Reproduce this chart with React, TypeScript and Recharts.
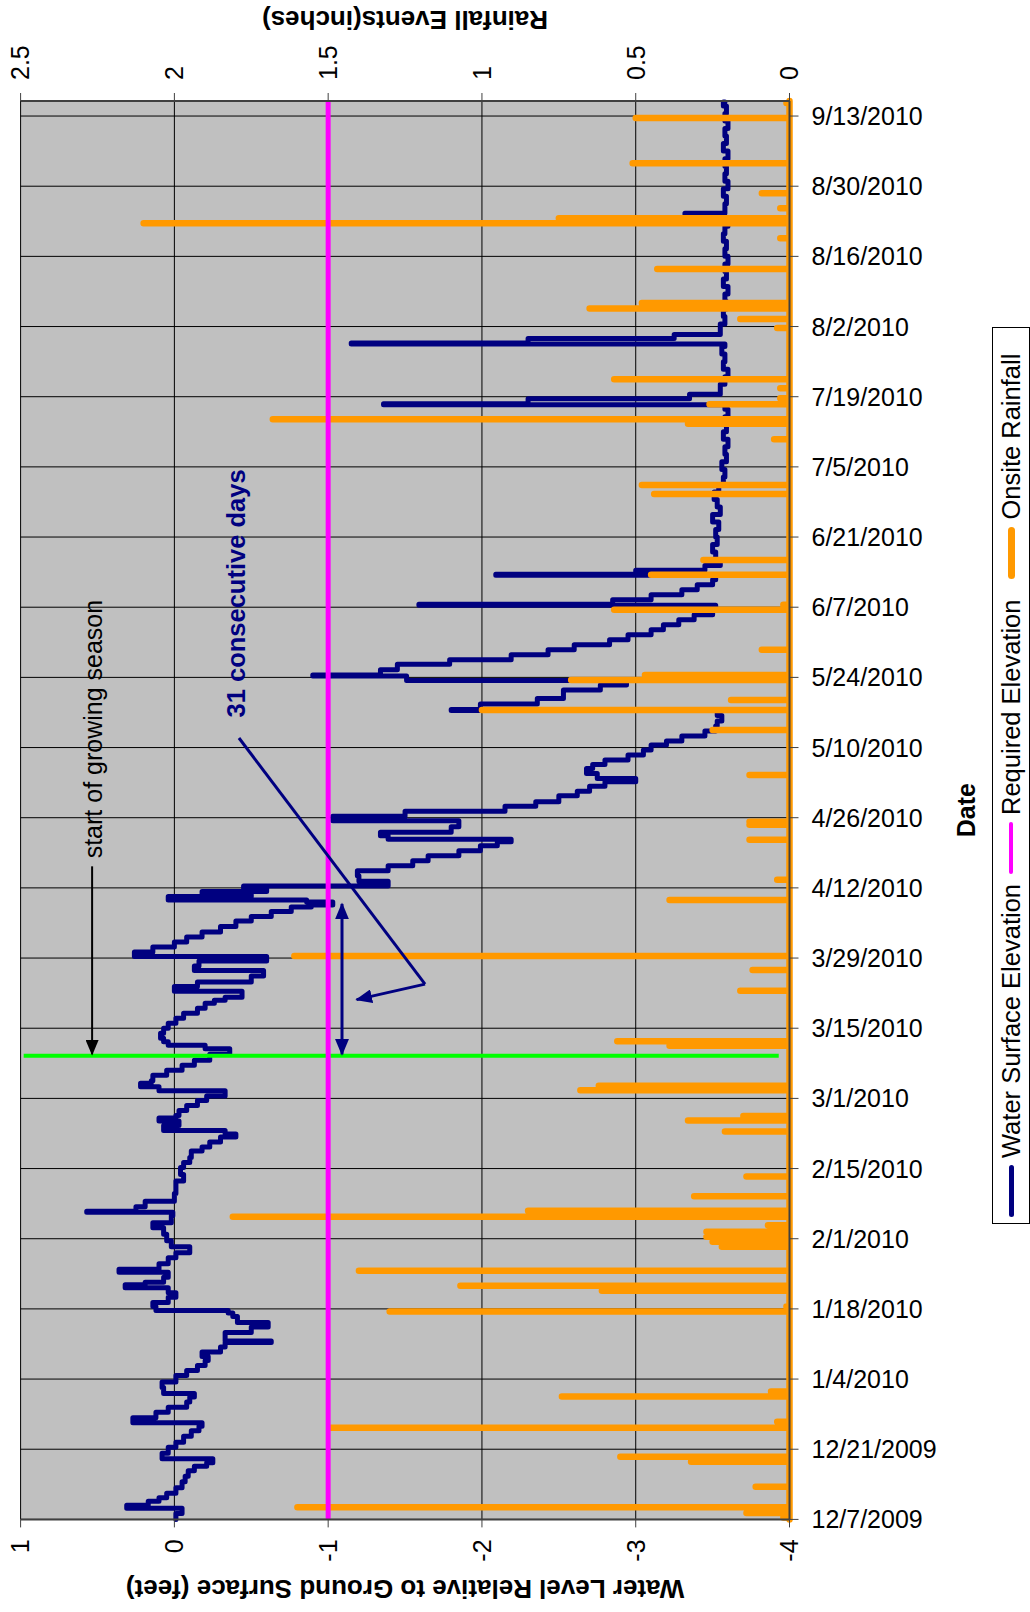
import React from "react";
import { ComposedChart, Line, XAxis, YAxis, CartesianGrid, ReferenceLine, ReferenceDot } from "recharts";

// x = days after 12/7/2009
const tickDays = [0, 14, 28, 42, 56, 70, 84, 98, 112, 126, 140, 154, 168, 182, 196, 210, 224, 238, 252, 266, 280];
const tickLabels = [
  "12/7/2009", "12/21/2009", "1/4/2010", "1/18/2010", "2/1/2010", "2/15/2010", "3/1/2010",
  "3/15/2010", "3/29/2010", "4/12/2010", "4/26/2010", "5/10/2010", "5/24/2010", "6/7/2010",
  "6/21/2010", "7/5/2010", "7/19/2010", "8/2/2010", "8/16/2010", "8/30/2010", "9/13/2010",
];
const levelTicks = [-4, -3, -2, -1, 0, 1];
const rainTicks = [0, 0.5, 1, 1.5, 2, 2.5];
const lastDay = 283;

// [day, feet]
const waterLevel: [number, number][] = [
  [0, -0.01], [1.2, -0.05], [2.2, 0.31], [2.8, 0.17], [3.6, 0.1], [4.3, 0.05], [5.2, -0.01], [6.3, -0.05],
  [7.5, -0.07], [8.6, -0.09], [9.7, -0.13], [10.6, -0.21], [11.3, -0.25], [12.1, 0.08], [13.2, 0.04],
  [14.4, -0.01], [15.4, -0.06], [16.6, -0.11], [17.7, -0.16], [18.6, -0.18], [19.3, 0.27], [20.3, 0.12],
  [21.4, 0.04], [22.4, -0.08], [23.4, -0.1], [24.4, -0.13], [25.1, 0.07], [26.3, 0.08], [27.4, -0.01],
  [28.7, -0.08], [29.7, -0.15], [30.7, -0.2], [31.7, -0.22], [32.5, -0.18], [33.4, -0.3], [34.4, -0.33],
  [35.3, -0.63], [35.6, -0.33], [37.3, -0.5], [38.4, -0.61], [39.3, -0.41], [40.5, -0.38], [41.2, -0.35],
  [41.7, 0.12], [42.5, 0.14], [43.3, 0.04], [44.3, -0.01], [45.2, 0.04], [46.2, 0.32], [46.8, 0.19],
  [47.3, 0.07], [48.3, 0.04], [49.3, 0.36], [49.9, 0.1], [51, 0.04], [52.2, -0.01], [53.2, -0.1],
  [54.4, 0.02], [55.6, 0.05], [56.9, 0.07], [58.2, 0.14], [59.2, 0.02], [60.6, 0.01], [61.3, 0.57],
  [61.5, 0.25], [62.4, 0.19], [63.5, 0], [65, -0.01], [66.3, -0.01], [67.5, -0.06], [68.8, -0.04],
  [70.2, -0.06], [71.2, -0.1], [72.2, -0.11], [73.5, -0.18], [74.3, -0.23], [75.3, -0.3], [76.3, -0.4],
  [76.9, -0.33], [77.6, 0.07], [78.6, -0.03], [79.5, 0.1], [80.1, -0.01], [80.6, -0.03], [81.6, -0.08],
  [82.6, -0.15], [83.6, -0.21], [84.5, -0.33], [85.5, 0.1], [86.3, 0.22], [87, 0.15], [87.5, 0.14],
  [88.6, 0.05], [89.6, -0.05], [90.6, -0.13], [91.6, -0.23], [92.8, -0.36], [93.9, -0.2], [94.6, 0.04],
  [95.3, 0.07], [96, 0.09], [97, 0.07], [98, 0.04], [99, -0.01], [100, -0.06], [101, -0.15], [102, -0.2],
  [103, -0.26], [103.6, -0.33], [104.2, -0.44], [105.4, 0], [106.3, -0.15], [107.2, -0.5], [108.4, -0.58],
  [109.5, -0.13], [110.4, -0.16], [111.4, -0.6], [112.3, 0.26], [113.2, 0.14], [114.2, 0], [115.2, -0.08],
  [116.2, -0.18], [117.2, -0.3], [118.3, -0.4], [119.4, -0.5], [120.3, -0.63], [121.3, -0.76],
  [122.2, -0.89], [122.6, -1.03], [123.2, -0.86], [123.6, 0.04], [124.3, -0.5], [124.7, -0.18],
  [125.3, -0.6], [125.9, -0.45], [126.4, -1.39], [127.3, -1.2], [128.4, -1.19], [129.4, -1.39],
  [130.4, -1.55], [131.4, -1.65], [132.4, -1.85], [133.4, -1.99], [134.4, -2.1], [135.2, -2.19],
  [135.7, -1.39], [136.4, -1.34], [137.1, -1.8], [138.2, -1.85], [139.4, -1.03], [140.3, -1.5],
  [141.3, -2.15], [142.3, -2.35], [143.2, -2.5], [144.4, -2.62], [145.3, -2.7], [146.3, -2.8],
  [147.2, -3.0], [147.8, -2.75], [148.8, -2.68], [149.8, -2.72], [150.6, -2.8], [151.5, -2.95],
  [152.5, -3.05], [153.5, -3.1], [154.5, -3.2], [155.3, -3.3], [156.3, -3.45], [157.3, -3.52],
  [158.3, -3.53], [159.3, -3.56], [160.4, -3.53], [161.4, -1.8], [161.6, -1.99], [162.7, -2.36],
  [163.8, -2.53], [165.5, -2.77], [166.5, -2.94], [167.4, -1.51], [168.3, -0.9], [168.5, -1.34],
  [169.5, -1.45], [170.6, -1.79], [171.5, -2.19], [172.5, -2.43], [173.5, -2.6], [174.5, -2.83],
  [175.5, -2.95], [176.5, -3.1], [177.5, -3.18], [178.5, -3.28], [179.5, -3.38], [180.5, -3.5],
  [181.5, -3.52], [182.4, -1.59], [182.6, -2.85], [183.5, -3.1], [184.5, -3.3], [185.5, -3.4],
  [186.5, -3.5], [187.5, -3.52], [188.4, -2.09], [188.6, -3.0], [189.4, -3.45], [190.3, -3.55],
  [191.5, -3.52], [193, -3.5], [194.5, -3.53], [196, -3.52], [197.5, -3.54], [199, -3.5], [200.5, -3.55],
  [202, -3.53], [203.5, -3.51], [205, -3.54], [206.5, -3.57], [208, -3.58], [209.5, -3.56], [211, -3.59],
  [212.5, -3.58], [214, -3.6], [215.5, -3.57], [217, -3.59], [218.5, -3.58], [220, -3.6], [221.5, -3.58],
  [222.4, -1.36], [222.6, -2.3], [223.6, -3.35], [224.5, -3.55], [226.5, -3.58], [228, -3.6],
  [229.5, -3.57], [231, -3.58], [232.5, -3.56], [234, -3.58], [234.5, -1.15], [234.7, -2.3],
  [235.6, -3.25], [236.4, -3.55], [238.5, -3.58], [240, -3.57], [241.5, -3.59], [243, -3.58],
  [244.5, -3.6], [246, -3.57], [247.5, -3.59], [249, -3.58], [250.5, -3.6], [252, -3.58], [253.5, -3.59],
  [255, -3.57], [256.5, -3.58], [258, -3.6], [259.5, -3.57], [260.4, -3.32], [260.6, -3.58],
  [262.5, -3.59], [264, -3.57], [265.5, -3.6], [267, -3.58], [268.5, -3.59], [270, -3.58], [271.5, -3.6],
  [273, -3.57], [274.5, -3.59], [276, -3.58], [277.5, -3.6], [279, -3.58], [280.5, -3.59], [282, -3.57],
  [282.8, -3.58],
];

// [day, inches]
const rainfall: [number, number][] = [
  [0.4, 0.02], [1.3, 0.14], [2.4, 1.6], [6.5, 0.11], [11.5, 0.32], [12.5, 0.55], [18.3, 1.49], [19.5, 0.04],
  [24.5, 0.74], [25.5, 0.06], [41.5, 1.3], [42.5, 0.01], [45.6, 0.61], [46.6, 1.07], [49.6, 1.4],
  [54.4, 0.22], [55.4, 0.25], [56.4, 0.27], [57.4, 0.27], [58.7, 0.07], [60.4, 1.81], [61.6, 0.85],
  [64.5, 0.31], [68.4, 0.14], [77.4, 0.21], [79.6, 0.33], [80.5, 0.15], [85.6, 0.68], [86.5, 0.62],
  [94.5, 0.39], [95.4, 0.56], [105.5, 0.16], [109.6, 0.12], [112.4, 1.61], [123.6, 0.39], [127.6, 0.04],
  [135.6, 0.13], [138.6, 0.13], [139.2, 0.13], [148.5, 0.13], [157.5, 0.25], [161.5, 1.0], [163.5, 0.19],
  [167.5, 0.71], [168.5, 0.47], [173.5, 0.09], [181.5, 0.57], [182.5, 0.02], [188.5, 0.45], [191.4, 0.28],
  [204.6, 0.44], [206.4, 0.48], [215.5, 0.05], [218.6, 0.33], [219.5, 1.68], [222.5, 0.26], [223.7, 0.03],
  [225.7, 0.03], [227.5, 0.57], [237.7, 0.04], [239.5, 0.16], [241.6, 0.65], [242.7, 0.48], [249.5, 0.43],
  [255.6, 0.03], [258.6, 2.1], [259.6, 0.75], [261.6, 0.03], [264.6, 0.09], [270.6, 0.51], [279.6, 0.5],
  [282.6, 0.01],
];

const requiredElevation = -1;
const growingSeasonStart = 92.5; // 3/10/2010

const levelData = waterLevel.map(([day, level]) => ({ day, level }));
const rainData = [
  { day: 0, rain: 0 },
  ...rainfall.flatMap(([day, rain]) => [{ day, rain: 0 }, { day, rain }, { day, rain: 0 }]),
  { day: lastDay, rain: 0 },
];
const requiredData = [
  { day: 0, required: requiredElevation },
  { day: lastDay, required: requiredElevation },
];

const FONT = '"Liberation Sans", Arial, sans-serif';
const NAVY = "#000080";

const legendItems = [
  { label: "Water Surface Elevation", color: NAVY, thick: 5, gap: 0 },
  { label: "Required Elevation", color: "#FF00FF", thick: 4, gap: 10 },
  { label: "Onsite Rainfall", color: "#FF9900", thick: 7, gap: 21 },
];

const titleStyle = { textAnchor: "middle", fontWeight: "bold", fontSize: 26, fill: "#000" } as const;

const DateTick = (props: any) => {
  const { x, y, payload } = props;
  return (
    <text
      x={x}
      y={y}
      transform={`rotate(90, ${x}, ${y})`}
      textAnchor="start"
      dominantBaseline="central"
      fontSize={25}
      fill="#000"
    >
      {tickLabels[tickDays.indexOf(payload.value)]}
    </text>
  );
};

const arrowLine = (color: string, width: number, head: string, both = false) => (p: any) => (
  <line
    x1={p.x1}
    y1={p.y1}
    x2={p.x2}
    y2={p.y2}
    stroke={color}
    strokeWidth={width}
    markerEnd={head ? `url(#${head})` : undefined}
    markerStart={both ? `url(#${head})` : undefined}
  />
);

const ChartLegend = () => (
  <div
    style={{
      position: "absolute",
      left: 388,
      top: 992,
      width: 897,
      height: 38,
      boxSizing: "border-box",
      border: "1px solid #000",
      background: "#fff",
      display: "flex",
      alignItems: "center",
      padding: "0 0 0 6px",
      fontSize: 25.5,
      whiteSpace: "nowrap",
      overflow: "hidden",
    }}
  >
    {legendItems.map((item) => (
      <div key={item.label} style={{ display: "flex", alignItems: "center", marginLeft: item.gap, flexShrink: 0 }}>
        <div
          style={{
            width: 52,
            height: item.thick,
            borderRadius: item.thick / 2,
            background: item.color,
            marginRight: 7,
            flexShrink: 0,
          }}
        />
        <span>{item.label}</span>
      </div>
    ))}
  </div>
);

export default function App() {
  return (
    <div style={{ position: "absolute", left: 0, top: 0, width: 1030, height: 1612, overflow: "hidden", background: "#fff", fontFamily: FONT }}>
      <svg width={0} height={0} style={{ position: "absolute" }}>
        <defs>
          <marker id="headBlack" viewBox="0 0 12 10" refX="11" refY="5" markerWidth="17" markerHeight="13" markerUnits="userSpaceOnUse" orient="auto-start-reverse">
            <path d="M0,0 L12,5 L0,10 z" fill="#000" />
          </marker>
          <marker id="headNavy" viewBox="0 0 12 10" refX="11" refY="5" markerWidth="17" markerHeight="14" markerUnits="userSpaceOnUse" orient="auto-start-reverse">
            <path d="M0,0 L12,5 L0,10 z" fill={NAVY} />
          </marker>
        </defs>
      </svg>
      <div
        style={{
          position: "absolute",
          left: 0,
          top: 0,
          width: 1612,
          height: 1030,
          transformOrigin: "0 0",
          transform: "translate(0px, 1612px) rotate(-90deg)",
        }}
      >
        <ComposedChart width={1612} height={1030} margin={{ top: 20.6, right: 0, bottom: 0, left: 0 }}>
          <CartesianGrid yAxisId="level" stroke="#000" strokeWidth={1} fill="#C0C0C0" fillOpacity={1} />
          <XAxis
            dataKey="day"
            type="number"
            domain={[0, lastDay]}
            ticks={tickDays}
            interval={0}
            height={240.5}
            tickSize={9}
            tickMargin={13}
            tick={<DateTick />}
            axisLine={{ stroke: "#404040", strokeWidth: 2 }}
            tickLine={{ stroke: "#404040" }}
            label={{ value: "Date", position: "insideBottom", offset: 55, style: { fontWeight: "bold", fontSize: 25, fill: "#000" } }}
          />
          <YAxis
            yAxisId="level"
            type="number"
            domain={[-4, 1]}
            ticks={levelTicks}
            width={92.6}
            tickSize={8}
            tickMargin={12}
            tick={{ fontSize: 25, fill: "#000" }}
            axisLine={{ stroke: "#404040", strokeWidth: 2 }}
            tickLine={{ stroke: "#404040" }}
            label={{
              value: "Water Level Relative to Ground Surface (feet)",
              angle: -90,
              position: "insideLeft",
              offset: 23,
              style: titleStyle,
            }}
          />
          <YAxis
            yAxisId="rain"
            orientation="right"
            type="number"
            domain={[0, 2.5]}
            ticks={rainTicks}
            width={101}
            tickSize={8}
            tickMargin={13}
            tick={{ fontSize: 25, fill: "#000" }}
            axisLine={{ stroke: "#404040", strokeWidth: 2 }}
            tickLine={{ stroke: "#404040" }}
            label={{
              value: "Rainfall Events(inches)",
              angle: -90,
              position: "insideRight",
              offset: 20,
              style: titleStyle,
            }}
          />
          <Line
            data={levelData}
            dataKey="level"
            yAxisId="level"
            type="stepAfter"
            stroke={NAVY}
            strokeWidth={5}
            strokeLinejoin="round"
            strokeLinecap="round"
            dot={false}
            activeDot={false}
            isAnimationActive={false}
          />
          <Line
            data={rainData}
            dataKey="rain"
            yAxisId="rain"
            type="linear"
            stroke="#FF9900"
            strokeWidth={6.5}
            strokeLinejoin="round"
            strokeLinecap="round"
            dot={false}
            activeDot={false}
            isAnimationActive={false}
          />
          <ReferenceLine
            yAxisId="level"
            segment={[{ x: growingSeasonStart, y: 0.98 }, { x: growingSeasonStart, y: -3.93 }]}
            stroke="#00FF00"
            strokeWidth={4}
          />
          <Line
            data={requiredData}
            dataKey="required"
            yAxisId="level"
            type="linear"
            stroke="#FF00FF"
            strokeWidth={5}
            dot={false}
            activeDot={false}
            isAnimationActive={false}
          />
          <ReferenceLine
            yAxisId="level"
            segment={[{ x: 130.3, y: 0.535 }, { x: 92.8, y: 0.535 }]}
            shape={arrowLine("#000", 2, "headBlack")}
          />
          <ReferenceDot
            yAxisId="level"
            x={131.9}
            y={0.47}
            r={0}
            shape={(p: any) => (
              <text x={p.cx} y={p.cy} fontSize={25} fill="#000">start of growing season</text>
            )}
          />
          <ReferenceDot
            yAxisId="level"
            x={160}
            y={-0.459}
            r={0}
            shape={(p: any) => (
              <text x={p.cx} y={p.cy} fontSize={25.5} fontWeight="bold" fill={NAVY}>31 consecutive days</text>
            )}
          />
          <ReferenceLine
            yAxisId="level"
            segment={[{ x: 155.9, y: -0.42 }, { x: 106.8, y: -1.63 }]}
            shape={arrowLine(NAVY, 3, "")}
          />
          <ReferenceLine
            yAxisId="level"
            segment={[{ x: 106.8, y: -1.63 }, { x: 103.7, y: -1.185 }]}
            shape={arrowLine(NAVY, 3, "headNavy")}
          />
          <ReferenceLine
            yAxisId="level"
            segment={[{ x: 92.8, y: -1.09 }, { x: 122.8, y: -1.09 }]}
            shape={arrowLine(NAVY, 3, "headNavy", true)}
          />
        </ComposedChart>
        <ChartLegend />
      </div>
    </div>
  );
}
